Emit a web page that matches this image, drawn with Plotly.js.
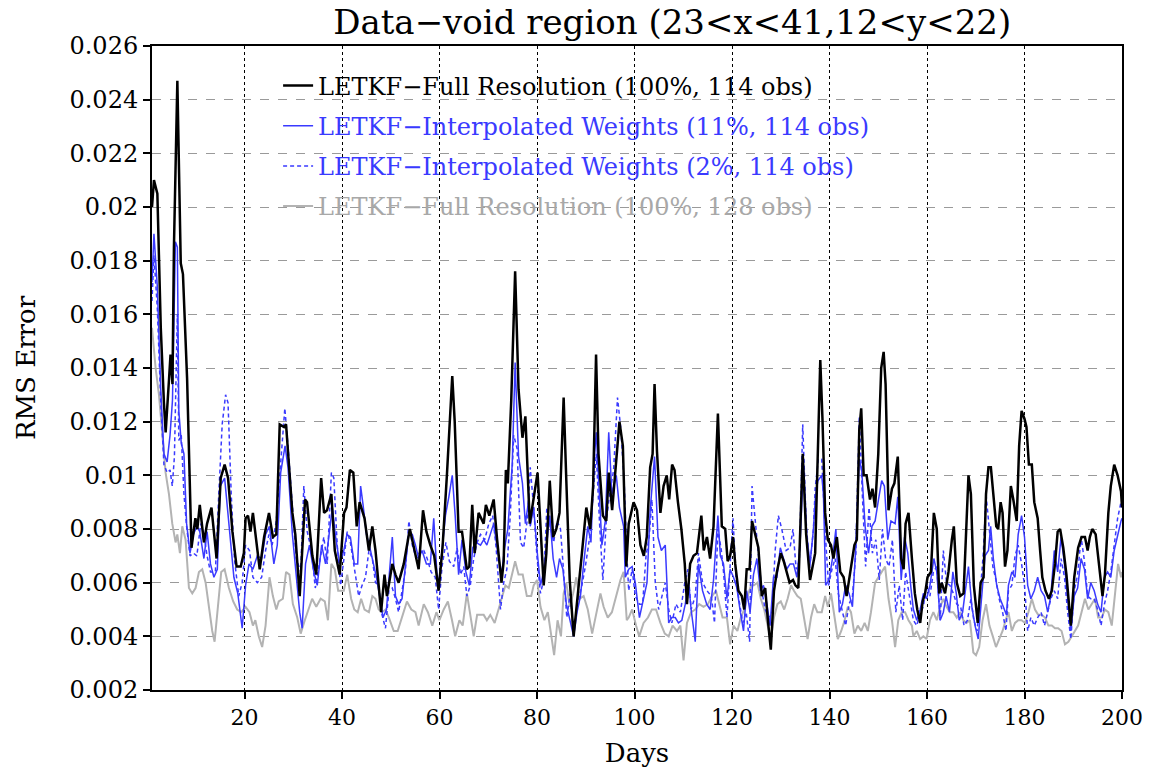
<!DOCTYPE html>
<html>
<head>
<meta charset="utf-8">
<script src="https://cdn.plot.ly/plotly-3.0.1.min.js"></script>
<style>body{margin:0;background:#fff}#chart{width:1151px;height:776px}</style>
</head>
<body>
<div id="chart"></div>
<script>
// ---- data ----
const seriesNames = [
  'LETKF−Full Resolution (100%, 114 obs)',
  'LETKF−Interpolated Weights (11%, 114 obs)',
  'LETKF−Interpolated Weights (2%, 114 obs)',
  'LETKF−Full Resolution (100%, 128 obs)'
];
const xTicks = [20,40,60,80,100,120,140,160,180,200];
const yTicks = [0.002,0.004,0.006,0.008,0.010,0.012,0.014,0.016,0.018,0.020,0.022,0.024,0.026];
const yTickText = ['0.002','0.004','0.006','0.008','0.01','0.012','0.014','0.016','0.018','0.02','0.022','0.024','0.026'];

const fullDays = [1.0,1.4,2.1,2.8,3.45,3.8,4.5,4.8,5.2,5.5,6.2,6.9,7.35,8.2,9.1,9.9,10.3,10.8,11.65,12.3,13.2,14.25,15.1,15.9,16.6,17.5,18.35,19.2,19.85,
20.2,20.7,21.2,21.7,22.2,23.1,24.0,25.0,25.8,26.5,27.2,28.1,28.5,29.8,30.4,31.3,32.4,32.8,33.9,34.7,35.7,36.3,36.9,37.8,38.5,39.5,
40.4,40.9,41.6,42.3,43.0,43.6,44.6,45.5,46.2,46.85,47.5,48.0,48.7,49.2,50.3,50.95,51.6,52.65,53.9,54.85,55.7,56.6,57.3,58.1,58.9,59.8,
60.6,61.5,62.2,62.6,63.1,63.9,64.6,65.6,66.1,66.7,67.2,68.0,69.05,69.5,70.2,71.1,71.8,72.7,73.15,73.6,74.0,74.7,75.5,76.2,77.0,77.6,78.5,
79.4,80.1,80.7,81.35,81.9,82.6,83.3,83.95,84.6,85.45,86.0,86.7,87.5,88.3,89.2,90.1,90.9,91.5,92.1,92.6,93.5,94.2,94.7,95.4,96.05,96.9,97.6,98.3,
98.8,99.8,100.5,101.2,101.9,102.5,103.2,103.7,104.1,104.6,105.3,105.95,106.6,107.1,107.7,108.2,108.9,109.6,110.3,110.75,111.4,112.1,112.8,113.7,114.2,114.85,115.5,116.2,117.1,117.9,
118.6,119.1,119.6,120.2,120.65,121.3,122.0,122.5,123.0,123.6,124.1,124.75,125.4,126.1,126.8,127.3,127.95,128.6,129.2,130.0,130.6,131.2,131.8,132.5,133.0,133.6,134.5,135.2,136.0,
137.05,137.6,138.1,138.55,139.1,139.65,140.3,140.8,141.5,142.2,142.9,143.5,144.2,145.1,145.6,146.1,146.5,147.0,147.6,148.3,148.8,149.35,150.0,150.6,151.1,151.5,152.1,152.8,153.3,154.0,154.7,155.2,155.6,156.2,156.9,
157.5,158.0,158.6,159.1,159.6,160.1,160.8,161.4,162.0,162.5,163.0,163.7,164.4,165.1,165.5,166.1,166.8,167.5,168.0,168.5,169.0,169.6,170.4,171.0,171.6,172.1,172.6,173.1,173.6,174.2,174.6,175.1,175.5,176.0,176.5,
177.2,177.7,178.4,178.9,179.4,180.0,180.4,180.9,181.5,182.0,182.7,183.2,183.65,184.3,185.0,185.6,186.25,186.8,187.3,187.95,188.6,189.5,190.2,191.0,191.7,192.4,192.95,193.4,193.9,194.6,195.5,196.0,196.5,197.2,197.7,198.4,199.1,199.8,200];
const fullRms = [0.0200,0.0210,0.0205,0.0155,0.0127,0.0116,0.0136,0.0145,0.0134,0.0185,0.0247,0.0179,0.0175,0.0136,0.0073,0.0084,0.0080,0.0089,0.0075,0.0082,0.0088,0.0069,0.0099,0.0104,0.0099,0.0079,0.0066,0.0066,0.0071,
0.0084,0.0085,0.0079,0.0086,0.0078,0.0065,0.0077,0.0086,0.0077,0.0078,0.0119,0.0118,0.0119,0.0086,0.0078,0.0055,0.0091,0.0090,0.0070,0.0063,0.0099,0.0086,0.0087,0.0093,0.0072,0.0063,
0.0086,0.0088,0.0102,0.0101,0.0081,0.0090,0.0084,0.0072,0.0081,0.0072,0.0059,0.0049,0.0063,0.0055,0.0067,0.0063,0.0060,0.0067,0.0080,0.0072,0.0065,0.0087,0.0079,0.0074,0.0070,0.0057,
0.0073,0.0100,0.0125,0.0137,0.0120,0.0079,0.0079,0.0065,0.0066,0.0089,0.0071,0.0086,0.0082,0.0089,0.0085,0.0091,0.0076,0.0060,0.0068,0.0102,0.0097,0.0128,0.0176,0.0132,0.0114,0.0122,0.0082,
0.0092,0.0101,0.0081,0.0059,0.0071,0.0098,0.0077,0.0080,0.0086,0.0129,0.0098,0.0061,0.0040,0.0056,0.0071,0.0088,0.0080,0.0096,0.0145,0.0108,0.0085,0.0083,0.0101,0.0087,0.0100,0.0120,0.0111,0.0066,
0.0082,0.0090,0.0087,0.0074,0.0070,0.0077,0.0103,0.0108,0.0134,0.0109,0.0086,0.0096,0.0100,0.0091,0.0104,0.0102,0.0090,0.0080,0.0067,0.0052,0.0067,0.0070,0.0071,0.0085,0.0072,0.0077,0.0069,0.0081,0.0123,0.0081,
0.0080,0.0068,0.0070,0.0077,0.0067,0.0057,0.0055,0.0050,0.0065,0.0065,0.0083,0.0078,0.0073,0.0055,0.0058,0.0047,0.0035,0.0057,0.0064,0.0071,0.0068,0.0064,0.0060,0.0061,0.0059,0.0058,0.0108,0.0078,0.0061,
0.0071,0.0108,0.0143,0.0121,0.0086,0.0076,0.0074,0.0069,0.0077,0.0064,0.0062,0.0055,0.0064,0.0074,0.0076,0.0117,0.0125,0.0100,0.0100,0.0091,0.0095,0.0088,0.0108,0.0140,0.0146,0.0134,0.0087,0.0095,0.0097,0.0107,0.0069,0.0065,0.0082,0.0086,0.0069,
0.0056,0.0050,0.0045,0.0053,0.0056,0.0062,0.0064,0.0086,0.0080,0.0056,0.0060,0.0056,0.0064,0.0076,0.0081,0.0060,0.0055,0.0056,0.0079,0.0100,0.0093,0.0059,0.0045,0.0060,0.0062,0.0093,0.0103,0.0103,0.0093,0.0081,0.0080,0.0090,0.0086,0.0066,0.0072,
0.0096,0.0091,0.0083,0.0111,0.0124,0.0121,0.0118,0.0104,0.0104,0.0090,0.0084,0.0072,0.0062,0.0057,0.0054,0.0057,0.0067,0.0079,0.0080,0.0073,0.0063,0.0044,0.0062,0.0073,0.0077,0.0077,0.0072,0.0077,0.0080,0.0078,0.0064,0.0055,0.0063,0.0086,0.0096,0.0104,0.0100,0.0094,0.0088];

const w11Days = [1.0,1.4,2.1,2.8,3.45,4.1,4.7,5.2,5.8,6.2,6.5,7.0,7.55,8.1,8.8,9.5,10.2,10.8,11.65,12.3,13.0,13.7,14.4,15.0,15.9,16.8,17.8,18.6,19.5,
20.2,20.9,21.7,22.6,23.5,24.3,25.1,26.0,26.7,27.4,28.3,28.9,29.8,30.6,31.3,31.8,32.5,33.3,34.2,34.9,35.8,36.6,37.3,38.0,38.6,39.5,
40.35,41.0,41.7,42.5,43.2,43.8,44.3,45.0,45.7,46.4,47.05,47.7,48.4,49.1,49.6,50.3,50.95,51.6,52.3,53.0,53.7,54.4,55.05,55.7,56.4,57.3,58.1,58.8,59.5,
59.8,60.5,61.2,61.9,62.6,63.2,63.9,64.6,65.4,66.1,66.8,67.5,68.4,69.05,69.7,70.4,71.1,71.8,72.7,73.35,74.0,74.9,75.5,76.2,77.0,77.6,78.3,78.6,
79.3,80.0,80.7,81.35,82.0,82.6,83.3,84.0,84.6,85.3,86.0,86.7,87.5,88.2,88.9,89.55,90.4,91.05,91.7,92.15,92.6,93.3,94.0,94.7,95.35,96.25,96.9,97.75,98.1,
98.8,99.5,100.15,101.0,101.9,102.55,103.2,104.1,104.8,105.5,106.3,107.0,107.65,108.35,109.0,109.7,110.4,111.1,111.6,112.45,113.1,113.95,114.8,115.5,116.2,117.1,117.6,
118.25,118.95,119.6,120.3,121.0,121.7,122.35,123.0,123.7,124.4,125.1,125.8,126.45,127.15,127.8,128.5,129.2,129.9,130.55,131.2,131.9,132.6,133.3,133.95,134.65,135.3,136.0,136.7,
137.1,137.6,138.4,138.75,139.2,139.9,140.6,141.3,142.0,142.65,143.3,144.0,144.7,145.4,146.1,146.6,147.3,148.0,148.7,149.35,150.05,150.7,151.25,151.95,152.6,153.45,154.0,154.7,155.4,156.05,156.7,
157.2,157.9,158.6,159.25,159.9,160.6,161.4,162.0,162.7,163.35,163.9,164.6,165.3,166.0,166.6,167.3,168.0,168.5,169.2,169.85,170.5,171.2,171.9,172.6,173.05,173.6,174.3,175.0,175.65,176.3,
176.7,177.4,178.05,178.7,179.4,180.0,180.65,181.3,182.0,182.7,183.4,184.1,184.75,185.4,186.1,186.8,187.5,188.2,188.85,189.5,190.2,190.9,191.6,192.3,192.95,193.6,194.3,195.0,195.7,196.4,197.05,197.7,198.4,199.1,199.8,200];
const w11Rms = [0.0172,0.0190,0.0170,0.0132,0.0108,0.0105,0.0115,0.0128,0.0187,0.0185,0.0124,0.0112,0.0108,0.0082,0.0071,0.0078,0.0081,0.0079,0.0069,0.0079,0.0067,0.0062,0.0065,0.0096,0.0099,0.0081,0.0062,0.0056,0.0043,
0.0059,0.0067,0.0065,0.0070,0.0069,0.0078,0.0081,0.0067,0.0074,0.0101,0.0111,0.0103,0.0078,0.0062,0.0049,0.0043,0.0067,0.0074,0.0064,0.0059,0.0074,0.0067,0.0077,0.0088,0.0078,0.0067,
0.0072,0.0078,0.0077,0.0067,0.0067,0.0096,0.0089,0.0078,0.0073,0.0067,0.0062,0.0055,0.0047,0.0050,0.0062,0.0077,0.0055,0.0052,0.0054,0.0068,0.0079,0.0078,0.0074,0.0069,0.0072,0.0067,0.0067,0.0084,0.0062,
0.0059,0.0073,0.0085,0.0092,0.0100,0.0085,0.0063,0.0076,0.0064,0.0059,0.0073,0.0075,0.0074,0.0076,0.0074,0.0078,0.0082,0.0073,0.0063,0.0073,0.0080,0.0104,0.0142,0.0107,0.0097,0.0082,0.0091,0.0081,
0.0088,0.0072,0.0059,0.0064,0.0074,0.0085,0.0069,0.0062,0.0069,0.0065,0.0052,0.0046,0.0040,0.0049,0.0055,0.0067,0.0081,0.0075,0.0106,0.0116,0.0098,0.0074,0.0083,0.0116,0.0093,0.0100,0.0088,0.0081,0.0062,
0.0065,0.0066,0.0060,0.0047,0.0055,0.0060,0.0087,0.0107,0.0077,0.0072,0.0074,0.0045,0.0047,0.0047,0.0045,0.0046,0.0052,0.0060,0.0050,0.0038,0.0067,0.0057,0.0052,0.0050,0.0061,0.0085,0.0070,
0.0067,0.0054,0.0065,0.0062,0.0058,0.0049,0.0042,0.0057,0.0049,0.0063,0.0069,0.0057,0.0059,0.0052,0.0044,0.0062,0.0062,0.0073,0.0069,0.0065,0.0067,0.0067,0.0062,0.0074,0.0104,0.0078,0.0067,0.0080,
0.0092,0.0098,0.0100,0.0093,0.0059,0.0061,0.0069,0.0080,0.0049,0.0052,0.0059,0.0056,0.0051,0.0074,0.0106,0.0102,0.0081,0.0071,0.0081,0.0083,0.0091,0.0098,0.0096,0.0076,0.0083,0.0082,0.0092,0.0061,0.0077,0.0071,0.0058,
0.0050,0.0046,0.0050,0.0056,0.0054,0.0059,0.0069,0.0064,0.0046,0.0049,0.0055,0.0049,0.0064,0.0056,0.0046,0.0049,0.0059,0.0066,0.0051,0.0044,0.0039,0.0054,0.0070,0.0072,0.0081,0.0069,0.0059,0.0054,0.0051,0.0048,
0.0059,0.0064,0.0062,0.0078,0.0085,0.0077,0.0059,0.0054,0.0057,0.0062,0.0057,0.0055,0.0049,0.0055,0.0072,0.0064,0.0077,0.0067,0.0054,0.0042,0.0055,0.0058,0.0069,0.0065,0.0054,0.0060,0.0057,0.0052,0.0049,0.0062,0.0064,0.0062,0.0072,0.0078,0.0083,0.0084];

const w2Days = [1.0,1.4,2.1,2.8,3.45,4.1,4.7,5.16,5.6,6.2,6.5,7.0,7.55,8.1,8.8,9.5,10.2,11.0,11.65,12.3,13.0,14.0,14.7,15.4,16.1,16.6,17.25,17.9,18.8,19.5,
20.2,21.0,21.7,22.6,23.5,24.3,25.0,25.65,26.5,27.4,28.25,28.9,29.8,30.6,31.5,32.15,32.85,33.7,34.5,35.35,36.25,36.95,37.8,38.3,39.0,39.7,
40.35,41.05,41.7,42.5,43.4,44.1,44.8,45.5,46.2,46.85,47.5,48.2,48.9,49.6,50.3,50.95,51.6,52.3,53.0,53.7,54.4,55.25,56.1,56.75,57.45,58.25,59.1,
59.8,60.5,61.3,62.0,62.9,63.6,64.3,64.95,65.6,66.3,67.0,67.7,68.4,69.25,70.1,70.9,71.6,72.5,73.15,73.8,74.5,75.2,75.9,76.6,77.25,78.1,78.6,
79.3,80.0,80.7,81.35,82.0,82.7,83.4,84.1,84.8,85.45,86.1,86.8,87.5,88.3,89.2,89.9,90.8,91.5,92.15,92.85,93.5,94.2,94.9,95.7,96.5,97.2,97.9,98.4,
98.8,99.5,100.15,101.0,101.65,102.35,103.0,103.55,104.25,104.95,105.6,106.3,107.0,107.65,108.5,109.4,110.3,110.95,111.6,112.45,113.1,113.95,114.85,115.75,116.4,117.1,117.8,
118.25,118.95,119.6,120.2,120.85,121.55,122.2,122.9,123.6,124.1,124.75,125.4,126.1,126.8,127.5,128.2,128.85,129.5,130.2,131.1,131.9,132.5,133.15,133.8,134.5,135.2,135.9,136.7,
137.05,137.7,138.4,139.1,139.8,140.5,141.15,141.8,142.5,143.3,144.0,144.7,145.4,146.1,146.75,147.4,148.1,148.8,149.5,150.2,150.85,151.5,152.2,152.9,153.6,154.3,155.0,155.6,156.3,
157.2,157.9,158.6,159.25,159.9,160.6,161.3,162.0,162.7,163.35,164.0,164.7,165.4,166.1,166.9,167.6,168.3,169.0,169.6,170.3,171.0,171.55,172.1,172.8,173.5,174.15,174.8,175.5,176.2,
176.7,177.4,178.05,178.7,179.4,180.0,180.65,181.3,182.0,182.7,183.4,184.1,184.75,185.4,186.1,186.8,187.5,188.2,188.85,189.5,190.2,190.9,191.6,192.3,192.95,193.6,194.3,195.0,195.7,196.4,197.05,197.7,198.4,199.1,199.8,200];
const w2Rms = [0.0165,0.0182,0.0162,0.0127,0.0104,0.0101,0.0102,0.0096,0.0107,0.0160,0.0113,0.0115,0.0093,0.0081,0.0070,0.0071,0.0070,0.0082,0.0078,0.0070,0.0064,0.0064,0.0093,0.0119,0.0130,0.0127,0.0093,0.0069,0.0055,0.0060,
0.0074,0.0072,0.0062,0.0060,0.0062,0.0072,0.0078,0.0074,0.0083,0.0105,0.0125,0.0111,0.0089,0.0069,0.0064,0.0096,0.0079,0.0072,0.0058,0.0067,0.0077,0.0067,0.0101,0.0099,0.0074,0.0059,
0.0069,0.0079,0.0075,0.0065,0.0055,0.0059,0.0062,0.0072,0.0069,0.0060,0.0059,0.0048,0.0043,0.0057,0.0058,0.0054,0.0049,0.0057,0.0065,0.0083,0.0074,0.0069,0.0072,0.0072,0.0069,0.0064,0.0062,
0.0050,0.0066,0.0075,0.0068,0.0066,0.0073,0.0063,0.0066,0.0055,0.0059,0.0069,0.0075,0.0078,0.0076,0.0082,0.0085,0.0073,0.0050,0.0060,0.0065,0.0085,0.0115,0.0110,0.0075,0.0073,0.0085,0.0103,
0.0088,0.0069,0.0056,0.0061,0.0088,0.0081,0.0075,0.0083,0.0080,0.0064,0.0047,0.0056,0.0041,0.0052,0.0059,0.0066,0.0077,0.0093,0.0108,0.0081,0.0061,0.0083,0.0093,0.0102,0.0129,0.0117,0.0096,0.0071,
0.0057,0.0065,0.0055,0.0052,0.0052,0.0070,0.0077,0.0091,0.0060,0.0050,0.0055,0.0060,0.0050,0.0045,0.0052,0.0049,0.0060,0.0065,0.0050,0.0055,0.0071,0.0060,0.0057,0.0055,0.0045,0.0080,0.0072,
0.0064,0.0047,0.0068,0.0084,0.0060,0.0052,0.0045,0.0049,0.0038,0.0096,0.0084,0.0072,0.0057,0.0050,0.0047,0.0049,0.0072,0.0085,0.0080,0.0072,0.0073,0.0080,0.0065,0.0068,0.0119,0.0083,0.0065,0.0080,
0.0095,0.0106,0.0106,0.0079,0.0059,0.0065,0.0069,0.0056,0.0050,0.0044,0.0052,0.0055,0.0071,0.0122,0.0092,0.0066,0.0088,0.0071,0.0076,0.0061,0.0080,0.0069,0.0066,0.0076,0.0049,0.0059,0.0046,0.0064,0.0056,
0.0046,0.0044,0.0049,0.0051,0.0060,0.0055,0.0064,0.0066,0.0046,0.0072,0.0060,0.0059,0.0056,0.0052,0.0051,0.0044,0.0046,0.0054,0.0046,0.0042,0.0059,0.0071,0.0093,0.0079,0.0066,0.0061,0.0054,0.0049,0.0042,
0.0057,0.0059,0.0070,0.0074,0.0067,0.0059,0.0042,0.0047,0.0044,0.0047,0.0049,0.0044,0.0049,0.0054,0.0057,0.0054,0.0069,0.0062,0.0049,0.0039,0.0057,0.0063,0.0077,0.0068,0.0055,0.0054,0.0054,0.0050,0.0044,0.0052,0.0057,0.0064,0.0074,0.0084,0.0090,0.0088];

const full128Days = [1.0,1.74,2.43,3.11,3.79,4.48,5.16,5.84,6.19,6.73,7.21,7.89,8.58,9.26,9.94,10.63,11.31,12.0,12.68,13.36,13.84,14.52,15.2,15.89,16.78,17.66,18.48,19.3,
20.2,21.0,21.7,22.2,22.9,23.6,24.3,25.1,25.8,26.5,27.0,27.85,28.5,29.2,29.9,30.8,31.5,32.35,33.2,33.85,34.7,35.6,36.45,37.1,37.8,38.5,39.2,
40.35,41.05,41.85,42.5,43.2,43.9,44.6,45.5,46.2,46.85,47.5,48.2,48.9,49.6,50.6,51.4,52.3,53.3,54.2,55.05,55.7,56.75,57.6,58.5,59.35,
59.96,60.85,61.7,62.55,63.2,64.06,64.74,65.6,66.3,67.0,67.7,68.4,69.05,69.7,70.4,71.3,72.1,72.8,73.5,74.2,74.9,75.5,76.2,77.05,77.9,78.8,
79.3,80.0,80.7,81.5,82.2,82.9,83.5,84.2,84.9,85.45,86.0,86.7,87.4,88.05,88.7,89.55,90.4,91.3,92.15,93.0,93.65,94.5,95.35,96.25,97.1,97.75,98.4,
98.8,99.5,100.3,100.95,101.85,102.75,103.55,104.4,105.3,106.2,107.0,107.8,108.7,109.4,110.05,110.75,111.6,112.45,113.25,114.15,115.05,115.9,116.7,117.4,118.05,
118.95,119.6,120.3,121.1,121.8,122.5,123.2,123.9,124.5,125.2,125.9,126.6,127.3,127.95,128.6,129.3,130.0,130.7,131.4,132.1,132.7,133.4,134.1,134.8,135.5,136.2,136.85,137.5,
138.4,139.1,139.65,140.3,141.0,141.7,142.4,143.1,143.75,144.4,145.1,145.8,146.5,147.2,147.85,148.5,149.35,150.0,150.7,151.4,152.1,152.8,153.45,154.1,154.8,155.5,156.2,156.9,
157.2,157.9,158.6,159.25,159.9,160.6,161.3,162.0,162.7,163.35,164.0,164.7,165.4,166.1,166.8,167.45,168.1,168.8,169.5,170.05,170.7,171.4,172.1,172.8,173.5,174.15,174.8,175.5,176.3,
176.7,177.4,178.05,178.7,179.4,180.1,180.8,181.5,182.15,182.8,183.5,184.2,184.9,185.6,186.25,186.9,187.6,188.3,189.0,189.7,190.35,191.0,191.7,192.4,193.1,193.8,194.45,195.1,195.8,196.5,197.2,197.9,198.55,199.2,199.8,200];
const full128Rms = [0.0155,0.0140,0.0130,0.0116,0.0101,0.0093,0.0082,0.0075,0.0078,0.0071,0.0081,0.0076,0.0058,0.0056,0.0058,0.0064,0.0065,0.0060,0.0050,0.0042,0.0038,0.0050,0.0064,0.0065,0.0058,0.0053,0.0050,0.0049,
0.0051,0.0049,0.0044,0.0046,0.0040,0.0036,0.0044,0.0062,0.0055,0.0050,0.0053,0.0054,0.0064,0.0063,0.0052,0.0047,0.0041,0.0046,0.0051,0.0054,0.0051,0.0054,0.0053,0.0046,0.0067,0.0065,0.0057,
0.0057,0.0063,0.0054,0.0050,0.0049,0.0054,0.0050,0.0049,0.0055,0.0054,0.0050,0.0049,0.0050,0.0047,0.0042,0.0042,0.0047,0.0053,0.0050,0.0049,0.0044,0.0052,0.0049,0.0044,0.0049,
0.0046,0.0050,0.0053,0.0046,0.0040,0.0046,0.0044,0.0056,0.0048,0.0040,0.0048,0.0048,0.0048,0.0046,0.0048,0.0045,0.0050,0.0055,0.0059,0.0058,0.0064,0.0068,0.0063,0.0063,0.0055,0.0055,
0.0059,0.0061,0.0051,0.0046,0.0049,0.0041,0.0033,0.0046,0.0040,0.0056,0.0060,0.0051,0.0056,0.0062,0.0054,0.0055,0.0050,0.0041,0.0049,0.0056,0.0051,0.0047,0.0049,0.0055,0.0061,0.0064,0.0046,
0.0047,0.0050,0.0044,0.0040,0.0045,0.0047,0.0050,0.0050,0.0045,0.0041,0.0040,0.0044,0.0042,0.0044,0.0031,0.0045,0.0049,0.0050,0.0052,0.0051,0.0052,0.0055,0.0057,0.0052,0.0047,
0.0047,0.0037,0.0044,0.0042,0.0047,0.0050,0.0055,0.0059,0.0059,0.0060,0.0054,0.0050,0.0044,0.0039,0.0047,0.0052,0.0053,0.0050,0.0054,0.0059,0.0057,0.0055,0.0054,0.0047,0.0039,0.0047,0.0052,0.0049,
0.0049,0.0055,0.0051,0.0056,0.0047,0.0039,0.0042,0.0046,0.0051,0.0049,0.0041,0.0044,0.0042,0.0045,0.0042,0.0049,0.0060,0.0062,0.0064,0.0066,0.0054,0.0046,0.0036,0.0046,0.0049,0.0049,0.0046,0.0044,
0.0040,0.0042,0.0039,0.0040,0.0039,0.0046,0.0049,0.0046,0.0051,0.0054,0.0051,0.0049,0.0049,0.0047,0.0049,0.0046,0.0045,0.0046,0.0034,0.0033,0.0036,0.0046,0.0052,0.0044,0.0040,0.0036,0.0039,0.0042,0.0047,
0.0049,0.0042,0.0045,0.0046,0.0046,0.0045,0.0049,0.0054,0.0050,0.0048,0.0048,0.0047,0.0044,0.0044,0.0043,0.0043,0.0042,0.0037,0.0038,0.0040,0.0042,0.0044,0.0049,0.0054,0.0050,0.0052,0.0054,0.0047,0.0047,0.0050,0.0049,0.0044,0.0057,0.0067,0.0062,0.0064];

const FONT = 'DejaVu Serif, Liberation Serif, serif';
const BLUE = '#3a3aff';

const traces = [
  {x: full128Days, y: full128Rms, name: '<span style="color:#a8a8a8">' + seriesNames[3] + '</span>',
   mode: 'lines', line: {color: '#b3b3b3', width: 2}, legendrank: 4, legendgroup: 'g4'},
  {x: w2Days, y: w2Rms, name: '<span style="color:' + BLUE + '">' + seriesNames[2] + '</span>',
   mode: 'lines', line: {color: BLUE, width: 1.5, dash: '4px,3px'}, legendrank: 3, legendgroup: 'g3'},
  {x: w11Days, y: w11Rms, name: '<span style="color:' + BLUE + '">' + seriesNames[1] + '</span>',
   mode: 'lines', line: {color: BLUE, width: 1.5}, legendrank: 2, legendgroup: 'g2'},
  {x: fullDays, y: fullRms, name: seriesNames[0],
   mode: 'lines', line: {color: '#000000', width: 2.5}, legendrank: 1, legendgroup: 'g1'}
];

const layout = {
  width: 1151, height: 776,
  margin: {l: 152, r: 29, t: 46, b: 86, pad: 0},
  paper_bgcolor: '#ffffff', plot_bgcolor: '#ffffff',
  font: {family: FONT, color: '#000'},
  title: {text: 'Data−void region (23&lt;x&lt;41,12&lt;y&lt;22)', font: {family: FONT, size: 34, color: '#000'},
          x: 0.584, xanchor: 'center', y: 0.972, yanchor: 'middle'},
  showlegend: true,
  legend: {x: 0.13, xanchor: 'left', y: 0.973, yanchor: 'top', bgcolor: 'rgba(0,0,0,0)', borderwidth: 0,
           font: {family: FONT, size: 24, color: '#000'}, tracegroupgap: 6, itemwidth: 30},
  xaxis: {range: [1, 200], tickvals: xTicks, ticks: 'outside', ticklen: 7, tickwidth: 1.5, tickcolor: '#000',
          showline: true, linecolor: '#000', linewidth: 2, mirror: true,
          showgrid: true, gridcolor: '#000', griddash: 'dot', gridwidth: 1, zeroline: false,
          tickfont: {family: FONT, size: 22, color: '#000'},
          title: {text: 'Days', font: {family: FONT, size: 26, color: '#000'}, standoff: 14}},
  yaxis: {range: [0.002, 0.026], tickvals: yTicks, ticktext: yTickText, ticks: 'outside', ticklen: 7, tickwidth: 1.5, tickcolor: '#000',
          showline: true, linecolor: '#000', linewidth: 2, mirror: true,
          showgrid: true, gridcolor: '#9a9a9a', griddash: 'dash', gridwidth: 1, zeroline: false,
          tickfont: {family: FONT, size: 24, color: '#000'},
          title: {text: 'RMS Error', font: {family: FONT, size: 26, color: '#000'}, standoff: 26}}
};

Plotly.newPlot('chart', traces, layout, {displayModeBar: false, responsive: false});
</script>
</body>
</html>
